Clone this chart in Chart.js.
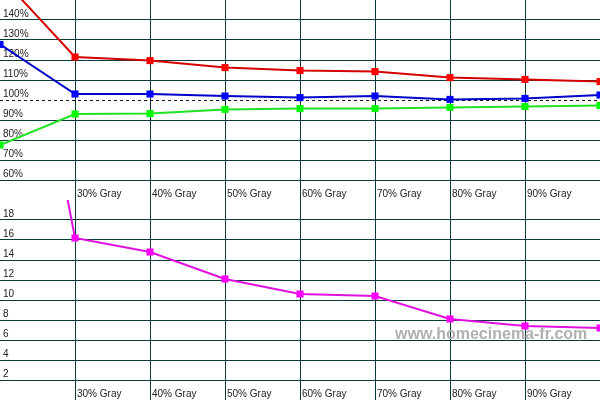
<!DOCTYPE html>
<html>
<head>
<meta charset="utf-8">
<script src="https://cdn.jsdelivr.net/npm/chart.js@4/dist/chart.umd.min.js"></script>
<style>
  html, body { margin: 0; padding: 0; background: #ffffff; }
  #wrap { position: relative; width: 600px; height: 400px; overflow: hidden; background: #fff; }
  canvas { position: absolute; left: 0; }
  #c1 { top: 0; }
  #c2 { top: 200px; }
  #wm { position: absolute; left: 395px; top: 326px; font: bold 16px "Liberation Sans", Arial, sans-serif;
        line-height: 16px; color: #b0b0b0; white-space: nowrap; pointer-events: none; }
</style>
</head>
<body>
<div id="wrap">
  <canvas id="c1" width="600" height="200"></canvas>
  <canvas id="c2" width="600" height="200"></canvas>
  <div id="wm">www.homecinema-fr.com</div>
</div>
<script>
// ---- data ----
const categories = ['20% Gray', '30% Gray', '40% Gray', '50% Gray', '60% Gray', '70% Gray', '80% Gray', '90% Gray', '100% Gray'];
const redValues   = [162, 121.5, 119.7, 116.2, 114.7, 114.2, 111.2, 110.3, 109.2];
const greenValues = [77.5, 93.0, 93.2, 95.3, 95.7, 95.7, 96.3, 96.8, 97.2];
const blueValues  = [127.8, 103.0, 103.0, 102.0, 101.2, 102.0, 100.3, 100.8, 102.5];
const deltaValues = [55, 16.2, 14.8, 12.1, 10.6, 10.4, 8.1, 7.4, 7.2];
const topTicks = { min: 50, max: 150, step: 10, reference: 100 };
const bottomTicks = { min: 0, max: 20, step: 2 };

// ---- styling ----
const GRID = '#0b3a3a';
Chart.defaults.font.family = '"Liberation Sans", Arial, sans-serif';
Chart.defaults.font.size = 10;
Chart.defaults.color = '#222222';

function zeroPad(s) {
  s.paddingTop = 0; s.paddingBottom = 0; s.paddingLeft = 0; s.paddingRight = 0;
}

function lineDs(label, data, lineColor, pointColor) {
  return {
    label, data,
    borderColor: lineColor, backgroundColor: pointColor,
    pointBackgroundColor: pointColor, pointBorderWidth: 0,
    pointStyle: 'rect', pointRadius: 5, pointHoverRadius: 5,
    borderWidth: 2, tension: 0
  };
}

function xAxis() {
  const last = categories.length - 1;
  return {
    type: 'category',
    offset: false,
    border: { display: false },
    grid: {
      drawTicks: false,
      lineWidth: 1,
      color: ctx => (ctx.index === 0 || ctx.index === last) ? 'rgba(0,0,0,0)' : GRID
    },
    ticks: {
      autoSkip: false, maxRotation: 0, minRotation: 0,
      mirror: true,
      align: 'start', labelOffset: 2, padding: 0,
      callback: function (v, i) { return (i === 0 || i === last) ? '' : this.getLabelForValue(v); }
    },
    afterFit: s => { s.height = 0; zeroPad(s); }
  };
}

function yAxis(cfg, suffix, dashedValue) {
  return {
    type: 'linear',
    min: cfg.min, max: cfg.max,
    border: {
      display: false,
      dash: ctx => (ctx.tick && ctx.tick.value === dashedValue) ? [3, 3] : []
    },
    grid: {
      drawTicks: false,
      lineWidth: 1,
      color: ctx => {
        if (!ctx.tick) return GRID;
        const v = ctx.tick.value;
        if (v === cfg.min || v === cfg.max) return 'rgba(0,0,0,0)';
        if (v === dashedValue) return '#111122';
        return GRID;
      }
    },
    ticks: {
      stepSize: cfg.step, mirror: true, padding: 3, labelOffset: -6,
      callback: v => (v === cfg.min || v === cfg.max) ? '' : v + suffix
    },
    afterFit: s => { s.width = 0; zeroPad(s); }
  };
}

const common = {
  responsive: false, animation: false, devicePixelRatio: 1,
  layout: { padding: 0, autoPadding: false },
  plugins: { legend: { display: false }, tooltip: { enabled: false } },
  events: []
};

new Chart(document.getElementById('c1'), {
  type: 'line',
  data: {
    labels: categories,
    datasets: [
      lineDs('Rouge', redValues, '#d40000', '#ff0000'),
      lineDs('Vert', greenValues, '#22e022', '#00ff00'),
      lineDs('Bleu', blueValues, '#0000c8', '#0000ff')
    ]
  },
  options: Object.assign({}, common, {
    scales: { x: xAxis(), y: yAxis(topTicks, '%', topTicks.reference) }
  })
});

new Chart(document.getElementById('c2'), {
  type: 'line',
  data: {
    labels: categories,
    datasets: [ lineDs('Delta', deltaValues, '#e010e0', '#ff00ff') ]
  },
  options: Object.assign({}, common, {
    scales: { x: xAxis(), y: yAxis(bottomTicks, '', null) }
  })
});
</script>
</body>
</html>
